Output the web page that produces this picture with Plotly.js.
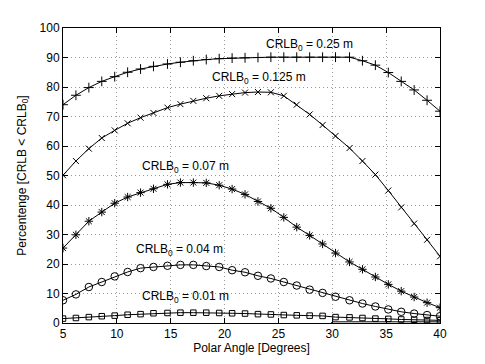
<!DOCTYPE html>
<html>
<head>
<meta charset="utf-8">
<script src="https://cdn.plot.ly/plotly-3.0.1.min.js"></script>
<style>
  html, body { margin: 0; padding: 0; background: #fff; }
  #chart { width: 485px; height: 364px; }
</style>
</head>
<body>
<div id="chart"></div>
<script>
// polar angle samples (degrees), 30 points from 5 to 40
const angle = [5.0, 6.2, 7.4, 8.6, 9.8, 11.0, 12.2, 13.4, 14.7, 15.9,
  17.1, 18.3, 19.5, 20.7, 21.9, 23.1, 24.3, 25.5, 26.7, 27.9,
  29.1, 30.3, 31.6, 32.8, 34.0, 35.2, 36.4, 37.6, 38.8, 40.0];

const crlb025 = [74.0, 77.2, 79.8, 81.9, 83.5, 85.0, 86.1, 87.0, 87.8, 88.4,
  88.9, 89.3, 89.6, 89.8, 89.9, 90.0, 90.1, 90.1, 90.1, 90.1,
  90.1, 90.1, 90.1, 88.9, 87.4, 84.9, 81.9, 79.0, 75.5, 71.8];

const crlb0125 = [50.1, 54.9, 59.1, 62.7, 65.3, 67.7, 69.6, 71.2, 73.0, 74.2,
  75.3, 76.2, 77.0, 77.6, 78.1, 78.3, 78.2, 77.0, 74.0, 70.7,
  67.1, 63.4, 59.3, 54.9, 50.3, 44.9, 39.2, 33.7, 28.2, 22.6];

const crlb007 = [25.4, 29.9, 34.5, 37.6, 40.6, 42.7, 44.2, 45.5, 47.0, 47.6,
  47.6, 47.5, 46.7, 45.4, 43.6, 41.2, 38.9, 35.8, 32.5, 29.7,
  26.8, 23.7, 20.7, 18.2, 15.6, 13.1, 10.8, 8.8, 6.9, 5.2];

const crlb004 = [7.7, 9.7, 12.2, 13.9, 15.8, 17.3, 18.6, 19.0, 19.4, 19.7,
  19.7, 19.3, 19.0, 17.9, 17.2, 16.0, 15.1, 13.9, 12.7, 11.3,
  10.2, 8.9, 7.7, 6.6, 5.6, 4.6, 3.8, 3.2, 2.7, 2.3];

const crlb001 = [1.5, 1.7, 2.0, 2.3, 2.5, 2.8, 3.0, 3.3, 3.4, 3.5,
  3.5, 3.5, 3.4, 3.3, 3.2, 3.0, 2.9, 2.7, 2.6, 2.5,
  2.4, 2.0, 1.9, 1.7, 1.5, 1.4, 1.2, 1.1, 1.0, 0.9];

// faint baseline curve hugging the x axis on the right
const baseAngle = [29.9, 30.0, 40.0];
const baseVal = [0.0, 0.4, 0.4];

const labels = ['CRLB<sub>0</sub> = 0.25 m', 'CRLB<sub>0</sub> = 0.125 m',
  'CRLB<sub>0</sub> = 0.07 m', 'CRLB<sub>0</sub> = 0.04 m', 'CRLB<sub>0</sub> = 0.01 m'];
const labelX = [27.9, 23.2, 16.4, 15.8, 16.4];
const labelY = [94.3, 83.2, 52.8, 24.8, 8.9];

const FONT = { family: 'Liberation Sans, Arial, sans-serif', size: 12, color: '#000' };

function series(y, symbol, size) {
  return {
    x: angle, y, type: 'scatter', mode: 'lines+markers',
    line: { color: '#000', width: 1 },
    marker: { symbol, size, color: '#000', line: { color: '#000', width: 1 } },
    showlegend: false, hoverinfo: 'skip',
  };
}

const traces = [
  series(crlb025, 'cross-thin', 7),
  series(crlb0125, 'x-thin', 6),
  series(crlb007, 'asterisk', 7),
  series(crlb004, 'circle-open', 7.5),
  series(crlb001, 'square-open', 5.5),
  { x: baseAngle, y: baseVal, mode: 'lines', line: { color: '#000', width: 1 }, showlegend: false, hoverinfo: 'skip' },
];

const annotations = labels.map((t, i) => ({
  x: labelX[i], y: labelY[i], text: t, showarrow: false, font: FONT,
  xanchor: 'center', yanchor: 'middle',
}));

const axisCommon = {
  showline: true, linecolor: '#000', linewidth: 1, mirror: 'ticks',
  ticks: 'inside', ticklen: 5, tickcolor: '#000',
  showgrid: true, gridcolor: '#999', griddash: '1px,3px', gridwidth: 1,
  zeroline: false, tickfont: FONT,
};

const layout = {
  width: 485, height: 364,
  margin: { l: 63, r: 45, t: 28, b: 41 },
  paper_bgcolor: '#fff', plot_bgcolor: '#fff',
  font: FONT,
  xaxis: {
    ...axisCommon, range: [5, 40], tickvals: [5, 10, 15, 20, 25, 30, 35, 40],
    title: { text: 'Polar Angle [Degrees]', font: FONT, standoff: 2 },
  },
  yaxis: {
    ...axisCommon, range: [0, 100], dtick: 10,
    title: { text: 'Percentenge [CRLB &lt; CRLB<sub>0</sub>]', font: FONT, standoff: 10 },
  },
  annotations,
};

Plotly.newPlot('chart', traces, layout, { staticPlot: true, displayModeBar: false });
</script>
</body>
</html>
